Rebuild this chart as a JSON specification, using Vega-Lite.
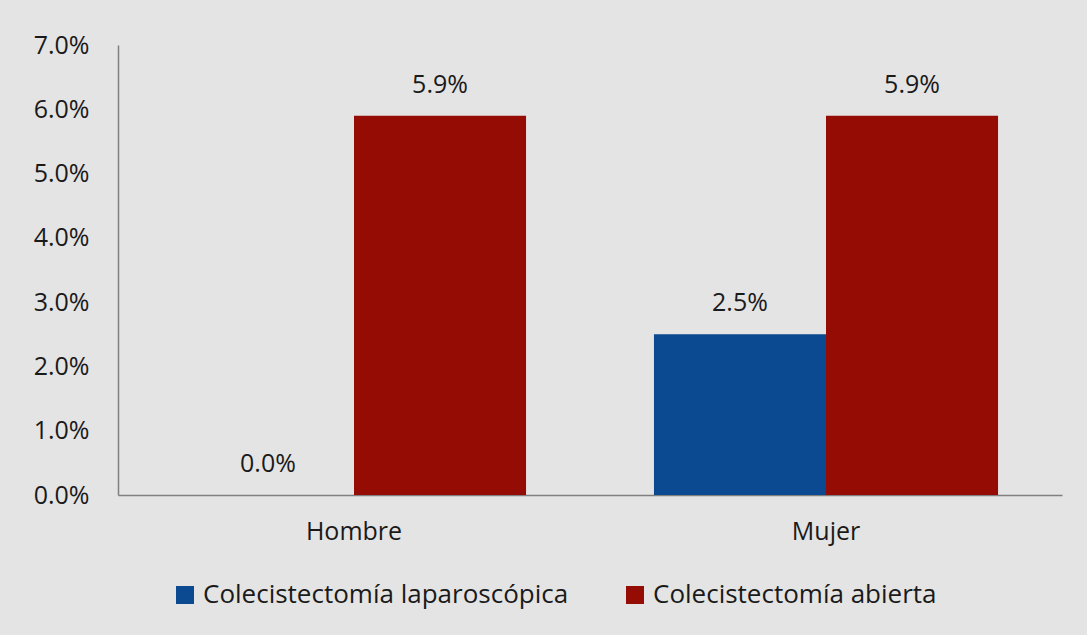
{
  "$schema": "https://vega.github.io/schema/vega-lite/v6.json",
  "width": 944,
  "height": 450,
  "autosize": {"type": "none"},
  "padding": {"left": 118, "top": 45, "right": 25, "bottom": 140},
  "background": "#e4e4e4",
  "data": {
    "values": [
      {"sexo": "Hombre", "tipo": "Colecistectomía laparoscópica", "valor": 0.0},
      {"sexo": "Hombre", "tipo": "Colecistectomía abierta", "valor": 0.059},
      {"sexo": "Mujer", "tipo": "Colecistectomía laparoscópica", "valor": 0.025},
      {"sexo": "Mujer", "tipo": "Colecistectomía abierta", "valor": 0.059}
    ]
  },
  "encoding": {
    "x": {
      "field": "sexo",
      "type": "nominal",
      "sort": ["Hombre", "Mujer"],
      "scale": {"paddingInner": 0.271, "paddingOuter": 0.1355},
      "axis": {
        "title": null,
        "labelAngle": 0,
        "ticks": false,
        "domainColor": "#7f7f7f",
        "domainWidth": 1.5,
        "labelFont": "Open Sans",
        "labelFontSize": 25,
        "labelColor": "#1a1a1a",
        "labelPadding": 24
      }
    },
    "xOffset": {
      "field": "tipo",
      "type": "nominal",
      "sort": ["Colecistectomía laparoscópica", "Colecistectomía abierta"],
      "scale": {"paddingInner": 0, "paddingOuter": 0}
    },
    "y": {
      "field": "valor",
      "type": "quantitative",
      "scale": {"domain": [0, 0.07]},
      "axis": {
        "title": null,
        "grid": false,
        "ticks": false,
        "values": [0, 0.01, 0.02, 0.03, 0.04, 0.05, 0.06, 0.07],
        "format": ".1%",
        "domainColor": "#7f7f7f",
        "domainWidth": 1.5,
        "labelFont": "Open Sans",
        "labelFontSize": 25,
        "labelColor": "#1a1a1a",
        "labelPadding": 29
      }
    }
  },
  "layer": [
    {
      "mark": {"type": "bar"},
      "encoding": {
        "color": {
          "field": "tipo",
          "type": "nominal",
          "scale": {
            "domain": ["Colecistectomía laparoscópica", "Colecistectomía abierta"],
            "range": ["#0b4a90", "#950c05"]
          },
          "legend": {
            "title": null,
            "orient": "none",
            "legendX": 54,
            "legendY": 537,
            "direction": "horizontal",
            "symbolType": "square",
            "symbolSize": 324,
            "symbolStrokeWidth": 0,
            "symbolOpacity": 1,
            "labelFont": "Open Sans",
            "labelFontSize": 26,
            "labelColor": "#1a1a1a",
            "labelOffset": 5,
            "labelLimit": 0,
            "columnPadding": 53
          }
        }
      }
    },
    {
      "mark": {
        "type": "text",
        "baseline": "bottom",
        "dy": -18,
        "font": "Open Sans",
        "fontSize": 25,
        "color": "#1a1a1a"
      },
      "encoding": {
        "text": {"field": "valor", "type": "quantitative", "format": ".1%"}
      }
    }
  ],
  "config": {"view": {"stroke": null}}
}
